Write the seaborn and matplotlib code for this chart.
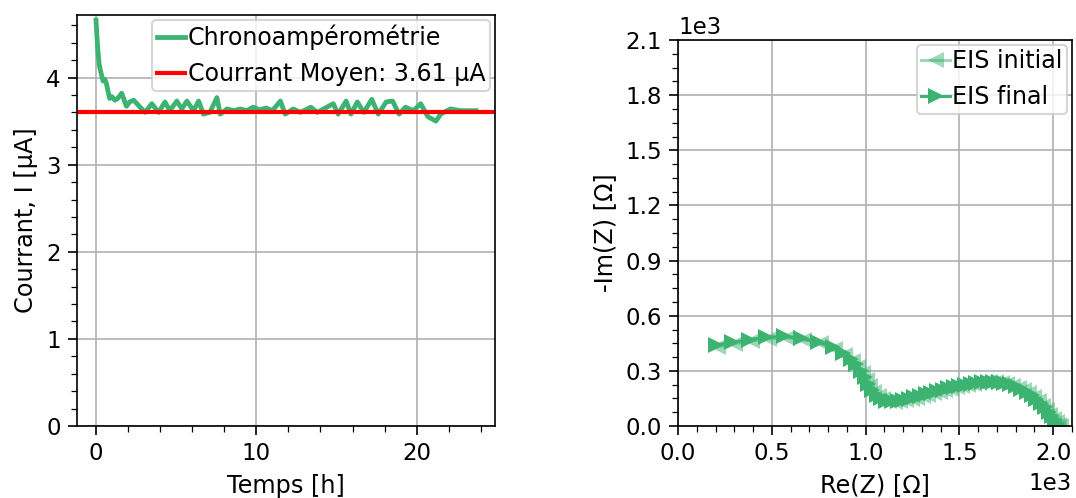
import matplotlib
matplotlib.use("Agg")
import matplotlib.pyplot as plt
from matplotlib.ticker import MultipleLocator, AutoMinorLocator
import seaborn as sns
import pandas as pd

# ---- data: chronoamperometry ----
time_h = [0.0, 0.05, 0.12, 0.2, 0.29, 0.44, 0.55, 0.65, 0.85, 1.0, 1.17, 1.35, 1.6, 1.9, 2.1,
          2.35, 2.75, 3.06, 3.48, 3.9, 4.3, 4.6, 5.04, 5.35, 5.67, 6.08, 6.4, 6.7, 7.1, 7.54,
          7.75, 8.17, 8.6, 9.0, 9.4, 9.8, 10.2, 10.6, 11.0, 11.5, 11.8, 12.3, 12.75, 13.4, 13.8,
          14.4, 14.8, 15.1, 15.6, 15.9, 16.3, 16.7, 17.2, 17.6, 18.1, 18.5, 18.9, 19.3, 19.8, 20.25,
          20.7, 21.2, 21.5, 22.1, 22.75, 23.2, 23.7]
current_uA = [4.66, 4.50, 4.30, 4.15, 4.07, 3.96, 3.98, 3.93, 3.76, 3.78, 3.74, 3.76, 3.82, 3.67, 3.72,
              3.74, 3.66, 3.60, 3.70, 3.60, 3.72, 3.62, 3.73, 3.64, 3.73, 3.62, 3.73, 3.58, 3.60, 3.77,
              3.58, 3.64, 3.62, 3.64, 3.62, 3.66, 3.63, 3.65, 3.62, 3.73, 3.58, 3.64, 3.60, 3.66, 3.60,
              3.66, 3.70, 3.58, 3.73, 3.58, 3.72, 3.60, 3.75, 3.58, 3.72, 3.73, 3.58, 3.66, 3.62, 3.70,
              3.55, 3.50, 3.58, 3.64, 3.62, 3.62, 3.62]
mean_current = 3.61

# ---- data: EIS ----
re_final = [200, 290, 380, 470, 565, 655, 745, 825, 880, 920, 950, 975, 995, 1015, 1035, 1058, 1082,
            1110, 1140, 1170, 1200, 1230, 1260, 1290, 1320, 1350, 1380, 1410, 1440, 1470, 1500, 1530,
            1560, 1590, 1620, 1650, 1680, 1710, 1740, 1770, 1800, 1830, 1860, 1885, 1910, 1935, 1955,
            1975, 1993, 2008, 2022, 2030]
im_final = [440, 455, 470, 483, 487, 478, 458, 428, 395, 365, 335, 300, 265, 230, 198, 170, 150,
            138, 134, 136, 142, 149, 157, 165, 173, 181, 189, 197, 205, 212, 219, 225,
            231, 236, 240, 242, 242, 239, 234, 226, 216, 203, 187, 169, 148, 125, 101,
            76, 52, 30, 12, 2]
re_initial = [215, 305, 395, 485, 580, 670, 760, 838, 892, 932, 960, 985, 1005, 1025, 1047, 1070, 1095,
              1125, 1155, 1185, 1215, 1245, 1275, 1305, 1335, 1365, 1395, 1425, 1455, 1485, 1515, 1545,
              1575, 1605, 1635, 1665, 1695, 1725, 1755, 1785, 1815, 1845, 1872, 1898, 1922, 1945, 1965,
              1985, 2002, 2018, 2032, 2042]
im_initial = [432, 448, 463, 476, 480, 470, 450, 418, 385, 355, 322, 287, 252, 218, 187, 162, 145,
              135, 132, 135, 140, 147, 155, 163, 171, 179, 187, 195, 203, 210, 217, 223,
              229, 234, 238, 240, 239, 235, 229, 220, 208, 194, 177, 157, 135, 111, 87,
              62, 40, 20, 6, 0]

GREEN = "mediumseagreen"

plt.rcParams.update({
    "font.family": ["DejaVu Sans"],
    "font.size": 11,
    "axes.grid": True,
    "grid.color": "#b0b0b0",
    "grid.linewidth": 0.8,
    "xtick.major.size": 4.3,
    "ytick.major.size": 4.3,
    "xtick.minor.size": 2.7,
    "ytick.minor.size": 2.7,
    "xtick.labelsize": 11,
    "ytick.labelsize": 11,
})

LABEL_FS = 11.5
LEG_KW = dict(loc="upper right", fontsize=11.4, handlelength=1.2, handletextpad=0.1,
              borderpad=0.2, borderaxespad=0.2)

fig = plt.figure(figsize=(1076 / 150, 498 / 150), dpi=150)
ax1 = fig.add_axes([77 / 1076, 72 / 498, 418 / 1076, 411 / 498])
ax2 = fig.add_axes([678 / 1076, 72 / 498, 394 / 1076, 386 / 498])

# ---- left: chronoamperometry ----
df_ca = pd.DataFrame({"t": time_h, "I": current_uA})
sns.lineplot(data=df_ca, x="t", y="I", ax=ax1, color=GREEN, linewidth=2.3,
             sort=False, estimator=None, label="Chronoampérométrie")
ax1.axhline(mean_current, color="red", linewidth=2,
            label=f"Courrant Moyen: {mean_current:.2f} µA")
ax1.set_ylim(bottom=0)
ax1.set_xlabel("Temps [h]", fontsize=LABEL_FS)
ax1.set_ylabel("Courrant, I [µA]", fontsize=LABEL_FS)
ax1.xaxis.set_major_locator(MultipleLocator(10))
ax1.yaxis.set_major_locator(MultipleLocator(1))
ax1.xaxis.set_minor_locator(AutoMinorLocator(5))
ax1.yaxis.set_minor_locator(AutoMinorLocator(5))
ax1.grid(True, which="major")
ax1.legend(**LEG_KW)

# ---- right: EIS ----
df_i = pd.DataFrame({"re": re_initial, "im": im_initial})
df_f = pd.DataFrame({"re": re_final, "im": im_final})
sns.lineplot(data=df_i, x="re", y="im", ax=ax2, color=GREEN, alpha=0.5, marker="<",
             markersize=8, markeredgewidth=0, linewidth=1.5, sort=False, estimator=None,
             label="EIS initial")
sns.lineplot(data=df_f, x="re", y="im", ax=ax2, color=GREEN, marker=">",
             markersize=8, markeredgewidth=0, linewidth=1.5, sort=False, estimator=None,
             label="EIS final")
ax2.set_xlim(0, 2100)
ax2.set_ylim(0, 2100)
ax2.xaxis.set_major_locator(MultipleLocator(500))
ax2.yaxis.set_major_locator(MultipleLocator(300))
ax2.xaxis.set_minor_locator(AutoMinorLocator(5))
ax2.yaxis.set_minor_locator(AutoMinorLocator(4))
ax2.ticklabel_format(style="sci", axis="both", scilimits=(3, 3))
ax2.xaxis.get_offset_text().set_fontsize(11)
ax2.yaxis.get_offset_text().set_fontsize(11)
ax2.set_xlabel("Re(Z) [Ω]", fontsize=LABEL_FS)
ax2.set_ylabel("-Im(Z) [Ω]", fontsize=LABEL_FS)
ax2.grid(True, which="major")
ax2.legend(**LEG_KW)

fig.savefig("out.png", dpi=150)
